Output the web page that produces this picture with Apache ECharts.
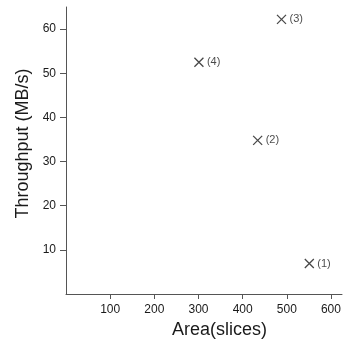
<!DOCTYPE html>
<html>
<head>
<meta charset="utf-8">
<script src="https://cdn.jsdelivr.net/npm/echarts@6/dist/echarts.min.js"></script>
<style>html,body{margin:0;padding:0;background:#fff}#c{width:343px;height:339px}</style>
</head>
<body>
<div id="c"></div>
<script>
var pointLabels = ['(1)', '(2)', '(3)', '(4)'];
var areaSlices = [551, 434, 488, 301];
var throughput = [6.9, 34.8, 62.2, 52.5];
var xTicks = [100, 200, 300, 400, 500, 600];
var yTicks = [10, 20, 30, 40, 50, 60];

var data = areaSlices.map(function (x, i) {
  return { value: [x, throughput[i]], name: pointLabels[i] };
});
var axisColor = '#555';
var chart = echarts.init(document.getElementById('c'), null, { renderer: 'canvas' });
chart.setOption({
  animation: false,
  backgroundColor: '#fff',
  grid: { left: 66, right: 1, top: 7, bottom: 45, containLabel: false, outerBoundsMode: 'none' },
  xAxis: {
    type: 'value', min: 0, max: 625,
    name: 'Area(slices)', nameLocation: 'middle', nameGap: 27,
    nameTextStyle: { fontFamily: 'Liberation Sans, Arial', fontSize: 18, color: '#1a1a1a', padding: [0, 0, 0, 31] },
    splitLine: { show: false },
    axisLine: { lineStyle: { color: axisColor, width: 1 } },
    axisTick: { show: true, length: 5, inside: false, lineStyle: { color: axisColor }, customValues: xTicks },
    axisLabel: { fontFamily: 'Liberation Sans, Arial', fontSize: 12, color: '#1a1a1a', margin: 10, customValues: xTicks }
  },
  yAxis: {
    type: 'value', min: 0, max: 65,
    name: 'Throughput (MB/s)', nameLocation: 'middle', nameGap: 30,
    nameTextStyle: { fontFamily: 'Liberation Sans, Arial', fontSize: 18, color: '#1a1a1a', padding: [0, 0, 0, 14] },
    splitLine: { show: false },
    axisLine: { show: true, lineStyle: { color: axisColor, width: 1 } },
    axisTick: { show: true, length: 6, lineStyle: { color: axisColor }, customValues: yTicks },
    axisLabel: { fontFamily: 'Liberation Sans, Arial', fontSize: 12, color: '#1a1a1a', margin: 10, customValues: yTicks }
  },
  series: [{
    type: 'scatter',
    data: data,
    symbol: 'path://M0,0L10,10M10,0L0,10',
    symbolSize: 9,
    itemStyle: { color: 'none', borderColor: '#1a1a1a', borderWidth: 1.3 },
    label: {
      show: true, position: 'right', distance: 1,
      formatter: function (p) { return p.name; },
      fontFamily: 'Liberation Sans, Arial', fontSize: 11, color: '#1a1a1a'
    },
    emphasis: { disabled: true }
  }]
});
</script>
</body>
</html>
